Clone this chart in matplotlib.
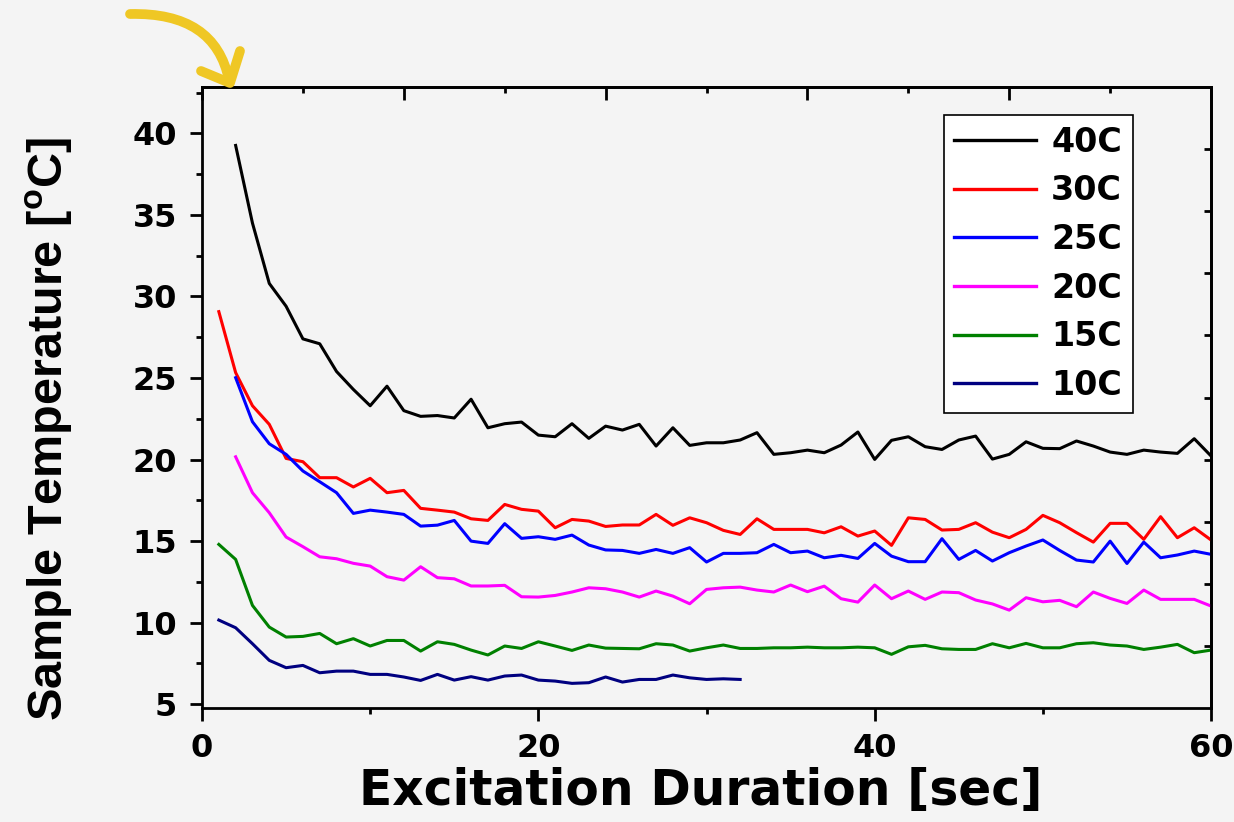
import numpy as np
import matplotlib
matplotlib.use("Agg")
import matplotlib.pyplot as plt
from matplotlib.path import Path
from matplotlib.patches import PathPatch
from matplotlib.lines import Line2D
from matplotlib.ticker import MultipleLocator, FixedLocator, NullFormatter

t_40 = np.arange(2, 61)
temp_40 = [39.26, 34.5, 30.8, 29.4, 27.4, 27.1, 25.4, 24.3, 23.3, 24.5,
           23.0, 22.65, 22.7, 22.55, 23.7, 21.95, 22.2, 22.3, 21.5, 21.4,
           22.2, 21.3, 22.05, 21.81, 22.16, 20.83, 21.95, 20.87, 21.03, 21.03,
           21.2, 21.65, 20.32, 20.42, 20.58, 20.42, 20.89, 21.69, 20.01, 21.18,
           21.4, 20.79, 20.62, 21.2, 21.44, 20.03, 20.32, 21.09, 20.69, 20.67,
           21.14, 20.83, 20.46, 20.32, 20.58, 20.46, 20.38, 21.28, 20.22]

t_30 = np.arange(1, 61)
temp_30 = [29.07, 25.33, 23.3, 22.16, 20.07, 19.87, 18.89, 18.89, 18.32, 18.85,
           17.97, 18.11, 17.01, 16.9, 16.78, 16.37, 16.27, 17.25, 16.95, 16.84,
           15.82, 16.33, 16.23, 15.9, 15.99, 15.99, 16.64, 15.97, 16.43, 16.13,
           15.66, 15.41, 16.37, 15.72, 15.72, 15.72, 15.51, 15.88, 15.31, 15.62,
           14.74, 16.43, 16.33, 15.68, 15.72, 16.13, 15.55, 15.21, 15.72, 16.58,
           16.13, 15.52, 14.94, 16.09, 16.09, 15.11, 16.5, 15.21, 15.82, 15.07]

t_25 = np.arange(2, 61)
temp_25 = [25.02, 22.32, 20.97, 20.32, 19.3, 18.64, 17.97, 16.7, 16.9, 16.78,
           16.64, 15.92, 15.98, 16.27, 15.0, 14.86, 16.07, 15.17, 15.27, 15.11,
           15.37, 14.76, 14.46, 14.43, 14.25, 14.49, 14.25, 14.6, 13.72, 14.25,
           14.25, 14.29, 14.8, 14.29, 14.39, 13.98, 14.13, 13.94, 14.86, 14.08,
           13.74, 13.74, 15.15, 13.88, 14.43, 13.78, 14.29, 14.7, 15.07, 14.43,
           13.84, 13.72, 15.0, 13.63, 14.94, 13.98, 14.15, 14.39, 14.19]

t_20 = np.arange(2, 61)
temp_20 = [20.17, 17.97, 16.74, 15.25, 14.66, 14.04, 13.92, 13.64, 13.47, 12.82,
           12.61, 13.43, 12.76, 12.69, 12.25, 12.25, 12.29, 11.59, 11.57, 11.67,
           11.88, 12.14, 12.08, 11.88, 11.57, 11.94, 11.63, 11.16, 12.04, 12.14,
           12.18, 12.0, 11.88, 12.31, 11.9, 12.24, 11.47, 11.26, 12.31, 11.47,
           11.94, 11.43, 11.88, 11.84, 11.39, 11.15, 10.77, 11.53, 11.28, 11.37,
           10.98, 11.88, 11.49, 11.18, 12.0, 11.43, 11.43, 11.43, 11.02]

t_15 = np.arange(1, 61)
temp_15 = [14.8, 13.88, 11.06, 9.73, 9.12, 9.16, 9.34, 8.71, 9.02, 8.57,
           8.91, 8.91, 8.26, 8.83, 8.67, 8.32, 8.02, 8.57, 8.42, 8.83,
           8.57, 8.3, 8.63, 8.44, 8.42, 8.4, 8.71, 8.63, 8.26, 8.46,
           8.63, 8.42, 8.42, 8.46, 8.46, 8.5, 8.46, 8.46, 8.5, 8.46,
           8.06, 8.52, 8.61, 8.4, 8.36, 8.36, 8.71, 8.46, 8.73, 8.46,
           8.46, 8.71, 8.77, 8.63, 8.57, 8.36, 8.5, 8.67, 8.16, 8.32]

t_10 = np.arange(1, 33)
temp_10 = [10.16, 9.69, 8.71, 7.69, 7.24, 7.38, 6.93, 7.03, 7.03, 6.83,
           6.83, 6.67, 6.46, 6.83, 6.48, 6.69, 6.48, 6.73, 6.79, 6.48,
           6.42, 6.28, 6.32, 6.67, 6.36, 6.52, 6.52, 6.79, 6.62, 6.52,
           6.56, 6.52]

labels = ["40C", "30C", "25C", "20C", "15C", "10C"]
colors = ["black", "#ff0000", "#0000ff", "#ff00ff", "#008000", "#000080"]

BG = "#f4f4f4"
YLIM = (4.75, 42.86)


def draw_arrow(fig):
    """
    Yellow curved arrow pointing at the top-left corner of the plot.
    """
    def p(px, py):
        return (px / 1234, 1 - py / 822)

    curve = Path([p(130, 14), p(215, 12), p(229, 80)],
                 [Path.MOVETO, Path.CURVE3, Path.CURVE3])
    fig.patches.append(PathPatch(curve, transform=fig.transFigure, fill=False,
                                 edgecolor="#efc724", lw=7, capstyle="round",
                                 joinstyle="round"))
    head = [p(201, 71), p(230, 83), p(240, 51)]
    fig.lines.append(Line2D([h[0] for h in head], [h[1] for h in head],
                            transform=fig.transFigure, color="#efc724", lw=7,
                            solid_capstyle="round", solid_joinstyle="round"))


def main():
    plt.rcParams["font.family"] = "DejaVu Sans"
    plt.rcParams["font.weight"] = "bold"
    plt.rcParams["mathtext.fontset"] = "custom"
    plt.rcParams["mathtext.rm"] = "Liberation Sans:bold"
    plt.rcParams["mathtext.bf"] = "Liberation Sans:bold"

    fig = plt.figure(figsize=(12.34, 8.22), dpi=100, facecolor=BG)
    ax = fig.add_axes([0.1637, 0.1383, 0.8177, 0.7562])
    ax.set_facecolor("none")

    series = [(t_40, temp_40), (t_30, temp_30), (t_25, temp_25),
              (t_20, temp_20), (t_15, temp_15), (t_10, temp_10)]
    for (t, temp), lab, col in zip(series, labels, colors):
        ax.plot(t, temp, color=col, lw=2.2, label=lab)

    ax.set_xlim(0, 60)
    ax.set_ylim(*YLIM)
    ax.xaxis.set_major_locator(MultipleLocator(20))
    ax.xaxis.set_minor_locator(MultipleLocator(10))
    ax.yaxis.set_major_locator(MultipleLocator(5))
    ax.yaxis.set_minor_locator(MultipleLocator(2.5))
    ax.tick_params(which="both", direction="out", width=2, labelsize=23,
                   top=False, right=False)
    ax.tick_params(which="major", length=9, pad=9)
    ax.tick_params(which="minor", length=4.5)
    for s in ax.spines.values():
        s.set_linewidth(2)

    # top axis: major every 12 s, minor every 6 s, ticks inward
    top = ax.secondary_xaxis("top")
    top.xaxis.set_major_locator(MultipleLocator(12))
    top.xaxis.set_minor_locator(MultipleLocator(6))
    top.xaxis.set_major_formatter(NullFormatter())
    top.tick_params(which="both", direction="in", width=2)
    top.tick_params(which="major", length=9)
    top.tick_params(which="minor", length=4.5)
    top.spines["top"].set_linewidth(2)

    # right axis: ten equal divisions, ticks inward
    right = ax.secondary_yaxis("right")
    right.yaxis.set_major_locator(FixedLocator(np.linspace(*YLIM, 11)[1:-1]))
    right.yaxis.set_major_formatter(NullFormatter())
    right.tick_params(direction="in", length=5, width=2)
    right.spines["right"].set_linewidth(2)

    ax.set_xlabel("Excitation Duration [sec]", fontsize=35, fontweight="bold")
    ax.xaxis.set_label_coords(0.494, -0.094)
    ax.set_ylabel(r"Sample Temperature [$^{\mathrm{o}}$C]", fontsize=35,
                  fontweight="bold", fontfamily="Liberation Sans")
    ax.yaxis.set_label_coords(-0.126, 0.45)

    leg = ax.legend(loc="upper right", bbox_to_anchor=(0.9224, 0.9545),
                    borderaxespad=0, fontsize=24, handlelength=2.45,
                    handletextpad=0.45, labelspacing=0.47, borderpad=0.32,
                    fancybox=False, framealpha=1, edgecolor="black",
                    facecolor="white")
    leg.get_frame().set_linewidth(1.2)
    for line in leg.get_lines():
        line.set_linewidth(2.4)

    draw_arrow(fig)

    fig.savefig("out.png", dpi=100, facecolor=BG)


if __name__ == "__main__":
    main()
